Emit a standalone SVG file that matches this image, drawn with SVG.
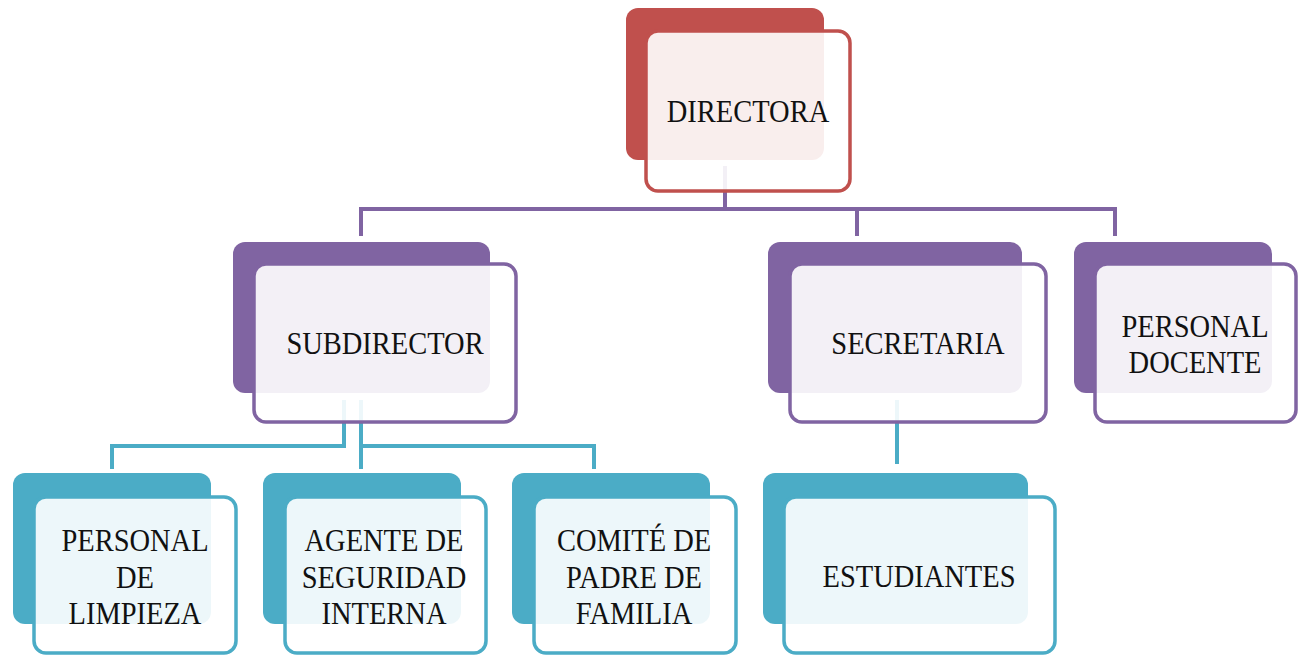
<svg xmlns="http://www.w3.org/2000/svg" width="1307" height="657" viewBox="0 0 1307 657">
<style>
.bg{fill:#ffffff}
.back{stroke:none}
.front{fill:#ffffff;fill-opacity:0.9;stroke-width:3.5}
.red .back{fill:#C0504D}.red .front{stroke:#C0504D}
.pur .back{fill:#8064A2}.pur .front{stroke:#8064A2}
.teal .back{fill:#4BACC6}.teal .front{stroke:#4BACC6}
.lbl{font-family:"Liberation Serif","Times New Roman",serif;font-size:32px;fill:#111111;text-anchor:middle}
.cp{fill:none;stroke:#8064A2;stroke-width:4}
.ct{fill:none;stroke:#4BACC6;stroke-width:4}
</style>
<rect class="bg" x="0" y="0" width="1307" height="657"/>
<g id="connectors">
<path class="cp" d="M725,166 V209 M361,236 V209 H1115 V236 M857,209 V236"/>
<path class="ct" d="M344,400 V446 H112 V469 M361,400 V469 M361,446 H594 V469"/>
<path class="ct" d="M897,400 V464"/>
</g>
<g id="n-directora" class="red">
<rect class="back" x="626" y="8" width="198" height="152" rx="12"/>
<rect class="front" x="646" y="31" width="204" height="160" rx="12"/>
<text class="lbl" transform="translate(748,122) scale(0.89,1)" x="0" y="0">DIRECTORA</text>
</g>
<g id="n-subdirector" class="pur">
<rect class="back" x="233" y="242" width="257" height="151" rx="12"/>
<rect class="front" x="254" y="264" width="262" height="158" rx="12"/>
<text class="lbl" transform="translate(385,354) scale(0.89,1)" x="0" y="0">SUBDIRECTOR</text>
</g>
<g id="n-secretaria" class="pur">
<rect class="back" x="768" y="242" width="254" height="151" rx="12"/>
<rect class="front" x="790" y="264" width="256" height="158" rx="12"/>
<text class="lbl" transform="translate(918,354) scale(0.89,1)" x="0" y="0">SECRETARIA</text>
</g>
<g id="n-docente" class="pur">
<rect class="back" x="1074" y="242" width="198" height="151" rx="12"/>
<rect class="front" x="1095" y="264" width="201" height="158" rx="12"/>
<text class="lbl" transform="translate(1195,337) scale(0.89,1)" x="0" y="0"><tspan x="0" y="0">PERSONAL</tspan><tspan x="0" y="36">DOCENTE</tspan></text>
</g>
<g id="n-limpieza" class="teal">
<rect class="back" x="13" y="473" width="198" height="151" rx="12"/>
<rect class="front" x="34" y="497" width="202" height="156" rx="12"/>
<text class="lbl" transform="translate(135,551) scale(0.89,1)" x="0" y="0"><tspan x="0" y="0">PERSONAL</tspan><tspan x="0" y="37">DE</tspan><tspan x="0" y="73">LIMPIEZA</tspan></text>
</g>
<g id="n-agente" class="teal">
<rect class="back" x="263" y="473" width="198" height="151" rx="12"/>
<rect class="front" x="285" y="497" width="201" height="156" rx="12"/>
<text class="lbl" transform="translate(384,551) scale(0.89,1)" x="0" y="0"><tspan x="0" y="0">AGENTE DE</tspan><tspan x="0" y="37">SEGURIDAD</tspan><tspan x="0" y="73">INTERNA</tspan></text>
</g>
<g id="n-comite" class="teal">
<rect class="back" x="512" y="473" width="198" height="151" rx="12"/>
<rect class="front" x="534" y="497" width="202" height="156" rx="12"/>
<text class="lbl" transform="translate(634,551) scale(0.89,1)" x="0" y="0"><tspan x="0" y="0">COMITÉ DE</tspan><tspan x="0" y="37">PADRE DE</tspan><tspan x="0" y="73">FAMILIA</tspan></text>
</g>
<g id="n-estudiantes" class="teal">
<rect class="back" x="763" y="473" width="265" height="151" rx="12"/>
<rect class="front" x="784" y="497" width="271" height="156" rx="12"/>
<text class="lbl" transform="translate(919,587) scale(0.89,1)" x="0" y="0">ESTUDIANTES</text>
</g>
</svg>
